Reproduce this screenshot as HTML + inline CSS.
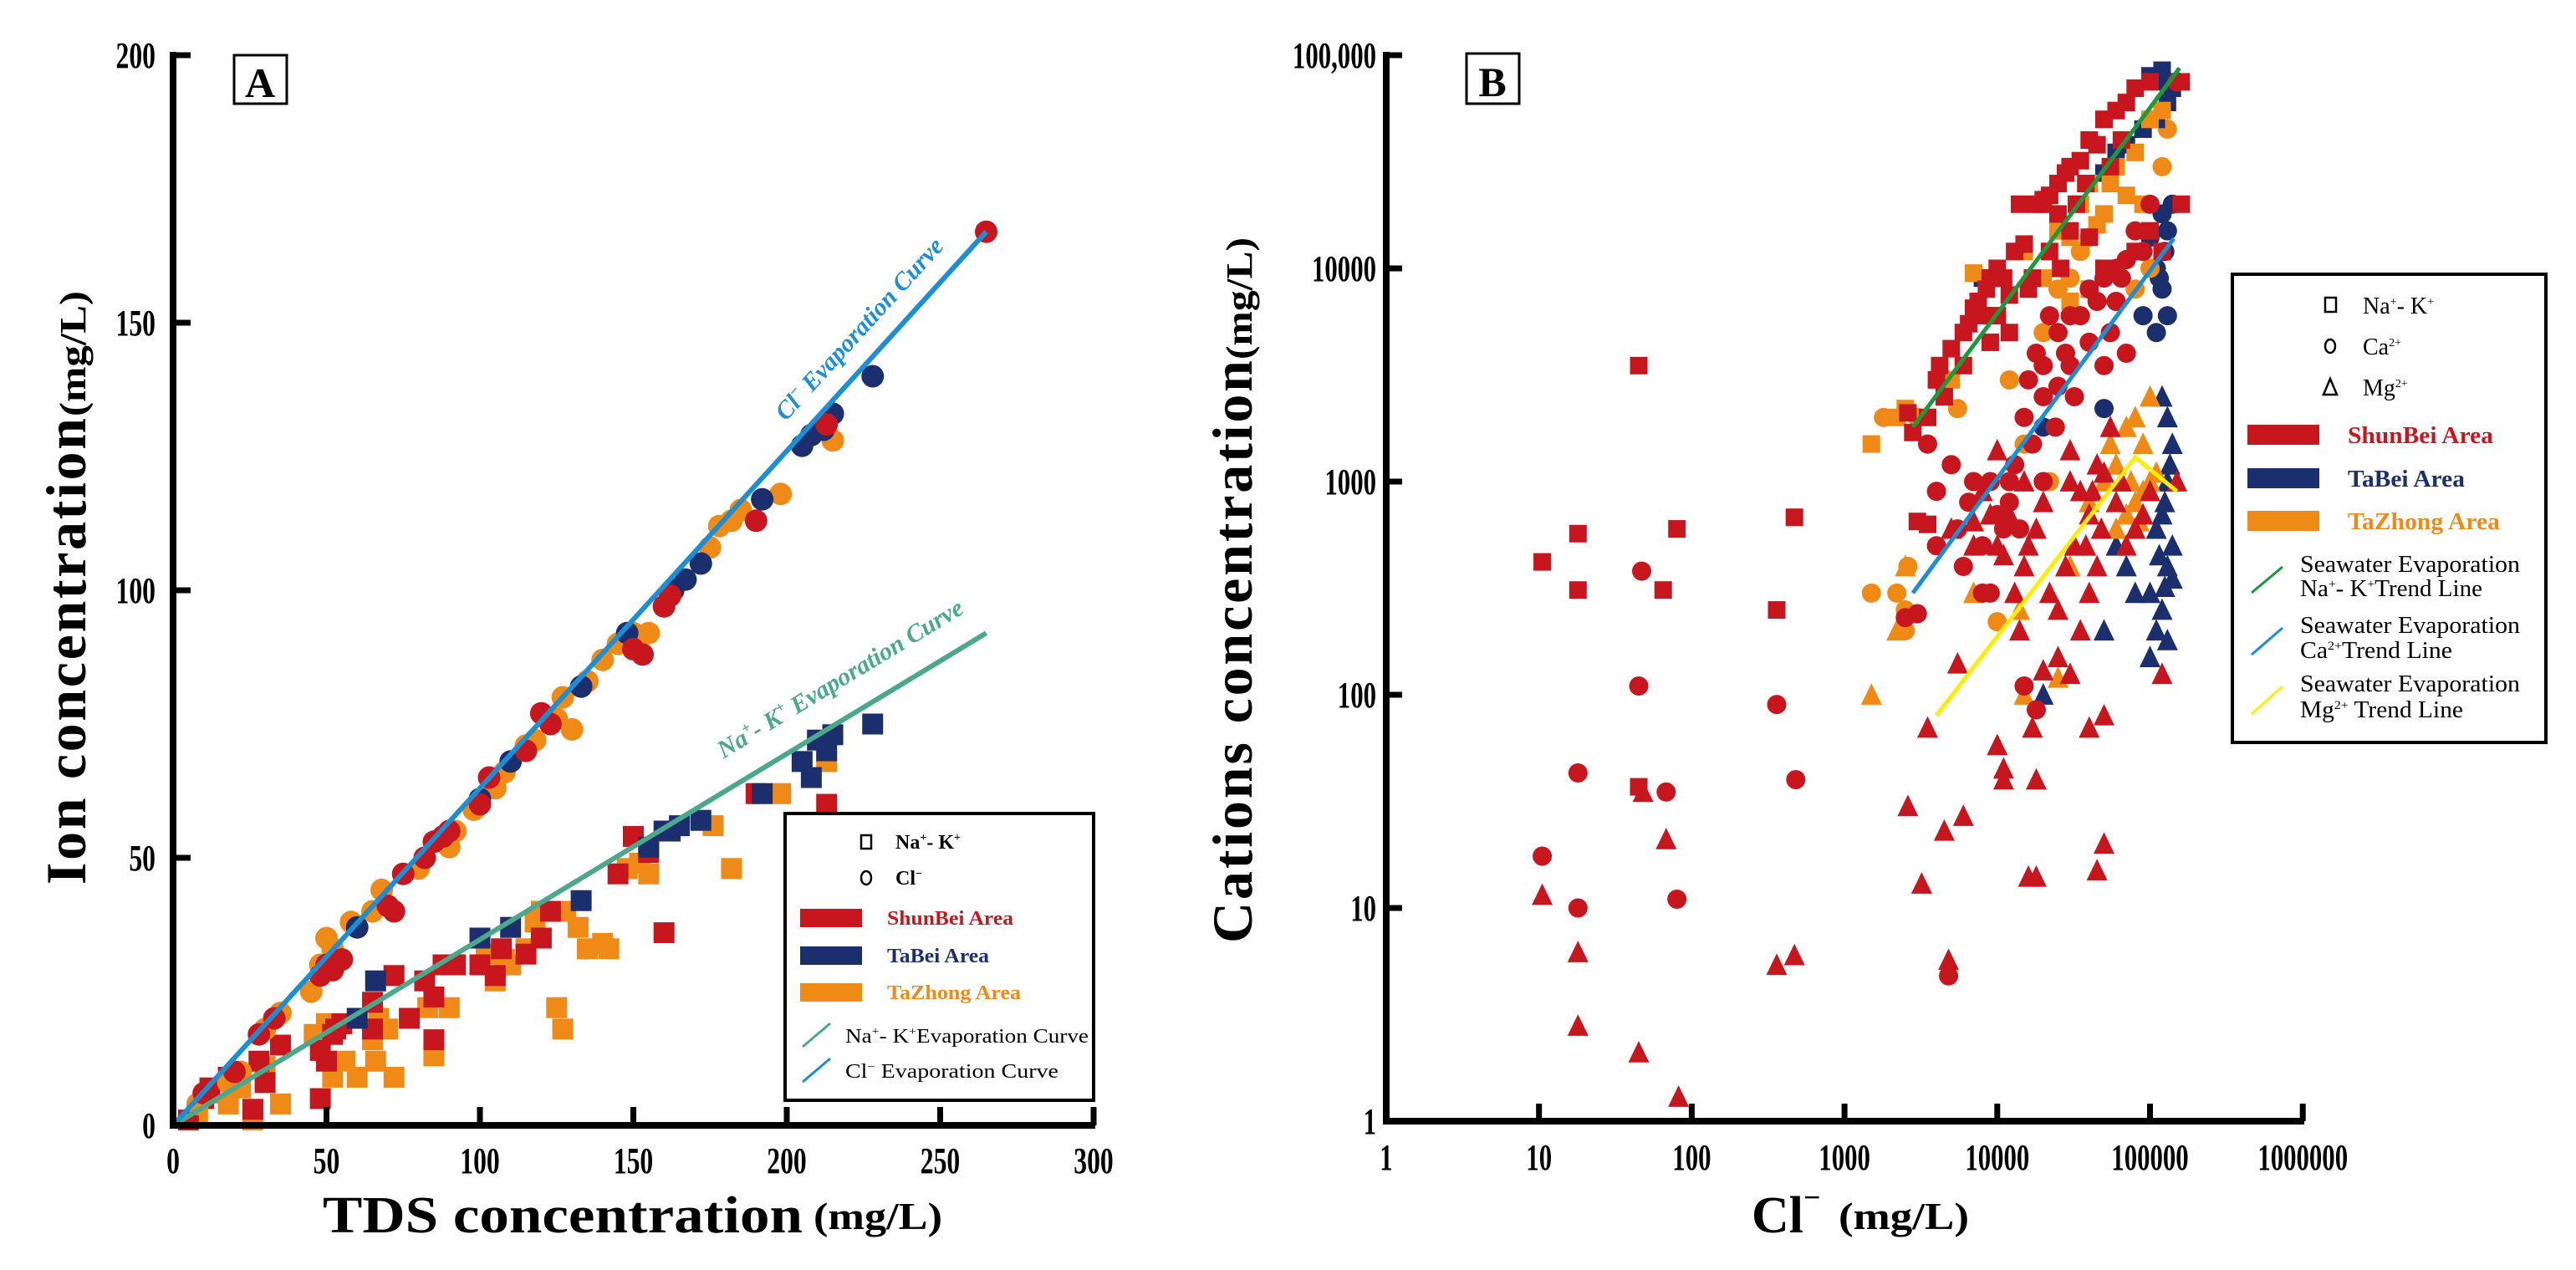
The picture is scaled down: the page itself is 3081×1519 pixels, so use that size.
<!DOCTYPE html>
<html><head><meta charset="utf-8"><style>
html,body{margin:0;padding:0;background:#fff;}
svg{display:block;}
text{font-family:"Liberation Serif",serif;}
</style></head><body>
<svg id="fig" xmlns="http://www.w3.org/2000/svg" width="3081" height="1519" viewBox="0 0 3081 1519">
<rect x="0" y="0" width="3081" height="1519" fill="#fff"/>
<g id="panelA"></g>
<g id="panelB"></g>
</svg>
<script>
// ---------- Panel A data ----------
const aXTicks = [0,50,100,150,200,250,300];
const aYTicks = [0,50,100,150,200];
const aClShunBei = [[10,6],[20,10],[28,17],[33,20],[48,28],[50,30],[52,29],[55,31],[70,41],[72,40],[75,47],[82,50],[85,53],[88,54],[90,55],[100,60],[103,65],[115,70],[120,77],[123,75],[150,89],[153,88],[160,97],[162,99],[190,113],[213,131],[265,167]];
const aClTaBei = [[60,37],[100,61],[110,68],[133,82],[148,92],[160,97],[163,100],[167,102],[172,105],[192,117],[205,127],[208,129],[212,130],[215,133],[228,140]];
const aClTaZhong = [[8,4],[18,8],[22,10],[30,18],[35,21],[45,25],[48,30],[50,35],[52,33],[58,38],[65,40],[68,44],[80,48],[82,50],[90,52],[92,55],[98,59],[105,63],[108,66],[115,71],[118,72],[125,76],[127,80],[130,74],[135,83],[140,87],[145,90],[150,92],[155,92],[175,108],[178,112],[182,113],[185,115],[198,118],[215,128]];
const aNaShunBei = [[5,1],[10,5],[12,7],[18,9],[26,3],[28,12],[30,8],[35,15],[48,5],[48,14],[50,12],[52,17],[53,18],[55,19],[65,23],[65,18],[72,28],[77,20],[82,27],[85,24],[85,16],[88,30],[92,30],[100,30],[105,28],[107,33],[115,32],[120,35],[123,40],[145,47],[150,54],[155,51],[160,36],[190,62],[213,60]];
const aNaTaBei = [[60,20],[66,27],[100,35],[110,37],[133,42],[155,52],[160,55],[162,55],[165,56],[172,57],[192,62],[205,68],[208,65],[210,72],[213,70],[215,73],[228,75]];
const aNaTaZhong = [[8,2],[12,6],[18,4],[22,7],[26,1],[30,11],[35,4],[46,17],[50,19],[52,9],[56,12],[60,9],[65,16],[66,12],[67,20],[70,18],[72,9],[83,22],[85,13],[90,22],[102,32],[105,27],[108,31],[110,30],[115,33],[118,38],[120,40],[125,22],[127,18],[128,40],[132,37],[135,33],[140,34],[142,33],[148,48],[152,49],[155,47],[176,56],[182,48],[198,62],[213,68]];
const aClCurve = [[0,0],[265,167]];
const aNaCurve = [[0,0],[265,92]];

// ---------- Panel B data ----------
const bXTicks = [1,10,100,1000,10000,100000,1000000];
const bXTickLabels = ["1","10","100","1000","10000","100000","1000000"];
const bYTicks = [1,10,100,1000,10000,100000];
const bYTickLabels = ["1","10","100","1000","10000","100,000"];
const bNaShunBei = [[10.5,420],[18,570],[18,310],[45,3500],[65,310],[80,600],[360,250],[470,680],[45,37],[2600,2100],[2800,1700],[3000,650],[3500,630],[3500,2000],[4000,3000],[4200,3500],[4500,2500],[5000,4200],[6000,5000],[6500,5500],[7000,6500],[7500,7000],[8500,8000],[9000,9000],[10000,6000],[10000,10000],[12000,7500],[13000,12000],[15000,13000],[17000,9000],[18000,20000],[20000,20000],[22000,22000],[25000,25000],[28000,28000],[30000,30000],[35000,32000],[40000,40000],[45000,38000],[50000,50000],[60000,55000],[70000,60000],[80000,70000],[100000,75000],[160000,75000],[160000,20000],[120000,12000],[100000,15000],[80000,12000],[50000,10000],[40000,14000],[30000,15000],[25000,18000],[20000,21000],[14000,20000],[11000,9000],[8000,6000],[12000,5000],[16000,8000],[22000,12000],[26000,10000],[33000,20000],[38000,25000],[55000,30000],[65000,40000],[9000,4500],[6000,3500]];
const bNaTaBei = [[100000,80000],[120000,85000],[130000,75000],[140000,70000],[130000,60000],[110000,50000],[90000,45000],[70000,38000],[60000,35000],[50000,28000],[8000,9000]];
const bNaTaZhong = [[1500,1500],[2200,2000],[2500,2200],[5000,3000],[7000,9500],[15000,12000],[20000,9000],[25000,15000],[30000,14000],[35000,20000],[40000,25000],[50000,18000],[60000,30000],[70000,22000],[80000,35000],[100000,50000],[120000,55000],[40000,8000],[30000,7000],[90000,20000],[45000,16000],[55000,25000]];
const bCaShunBei = [[10.5,17.5],[18,43],[18,10],[45,110],[47,380],[68,35],[80,11],[360,90],[480,40],[4800,4.8],[2500,230],[3000,240],[3500,1500],[4000,900],[5000,1200],[5500,600],[6500,800],[7000,1000],[8000,500],[9000,1000],[10000,700],[11000,600],[12000,1000],[13000,1200],[15000,2000],[16000,3000],[18000,4000],[20000,3500],[20000,2500],[22000,6000],[25000,5000],[25000,2800],[28000,4000],[30000,3500],[32000,2500],[35000,6000],[40000,8000],[45000,7000],[50000,9000],[50000,3500],[55000,5000],[60000,10000],[70000,11000],[80000,15000],[90000,12000],[100000,20000],[70000,4000],[15000,110],[18000,85],[12000,800],[20000,1000],[9000,300],[6000,400],[8000,300],[4000,500],[150000,75000],[14000,600],[17000,1500],[24000,1800],[30000,6000],[40000,4500],[60000,7000],[65000,9000]];
const bCaTaBei = [[100000,14000],[110000,10000],[120000,8000],[130000,6000],[125000,12000],[120000,18000],[140000,20000],[90000,6000],[110000,5000],[20000,1800],[50000,2200],[130000,15000],[115000,9000]];
const bCaTaZhong = [[1500,300],[2200,300],[2500,250],[2600,400],[3000,2000],[5500,2200],[10000,220],[15000,1500],[20000,5000],[25000,8000],[30000,9000],[35000,12000],[40000,14000],[22000,1000],[12000,3000],[60000,7000],[80000,8000],[100000,10000],[120000,30000],[130000,45000],[2500,200],[1800,2000]];
const bMgShunBei = [[10.5,11.5],[18,6.2],[18,2.8],[45,2.1],[48,35],[68,21],[82,1.3],[360,5.4],[470,6],[2600,30],[3200,13],[3500,70],[4500,23],[4800,5.7],[6000,27],[10000,58],[11000,45],[11000,40],[16000,14],[18000,14],[18000,40],[17000,70],[40000,70],[45000,15],[50000,20],[50000,80],[30000,125],[120000,125],[5500,140],[5000,600],[7000,650],[8000,900],[9000,700],[10000,500],[11000,450],[12000,700],[13000,300],[14000,200],[15000,400],[16000,500],[18000,600],[20000,800],[22000,300],[25000,250],[28000,400],[30000,1000],[32000,500],[35000,900],[40000,700],[45000,1200],[50000,1100],[60000,800],[70000,500],[80000,600],[100000,900],[150000,1000],[20000,130],[25000,150],[40000,300],[45000,400],[35000,200],[55000,1800],[10000,1400],[7000,500],[30000,1400],[15000,1000],[38000,500],[42000,900],[48000,600],[65000,1000],[90000,700]];
const bMgTaBei = [[100000,300],[110000,200],[120000,250],[130000,400],[140000,500],[120000,700],[130000,1000],[140000,1500],[130000,2000],[120000,2500],[60000,500],[70000,400],[50000,200],[80000,300],[110000,600],[130000,180],[140000,350],[100000,150],[20000,100],[125000,800],[135000,1200],[115000,450],[125000,320]];
const bMgTaZhong = [[1500,100],[2200,200],[2500,400],[5000,600],[7000,300],[14000,250],[15000,100],[25000,120],[30000,400],[40000,800],[50000,1000],[60000,1200],[70000,1800],[80000,2000],[90000,1500],[100000,2500],[60000,600],[70000,700],[80000,800],[90000,900],[100000,1000],[110000,1100],[55000,1500],[75000,1000],[85000,650]];
const bNaTrend = [[2800,1800],[156000,87000]];
const bCaTrend = [[2800,300],[143000,13800]];
const bMgTrend = [[4000,80],[80000,1300],[150000,900]];

const RED="#c8161e", NAVY="#1b2f6e", ORANGE="#f08a16";
const NS="http://www.w3.org/2000/svg";
function mk(tag, attrs, parent){const e=document.createElementNS(NS,tag);for(const k in attrs)e.setAttribute(k,attrs[k]);parent.appendChild(e);return e;}

function xA(v){return 207+v*3.67;}
function yA(v){return 1346-v*6.4;}
function xB(v){return 1658+Math.log10(v)*182.7;}
function yB(v){return 1341-Math.log10(v)*255;}

function marker(shape,cx,cy,s,color,parent,name){
  let e;
  if(shape==='c'){e=mk('circle',{cx:cx,cy:cy,r:s/2,fill:color},parent);}
  else if(shape==='s'){e=mk('rect',{x:cx-s/2,y:cy-s/2,width:s,height:s,fill:color},parent);}
  else {const h=s*0.95;e=mk('polygon',{points:`${cx},${cy-h/2-2} ${cx-s/2},${cy+h/2} ${cx+s/2},${cy+h/2}`,fill:color},parent);}
  
  
  return e;
}
function txt(parent,x,y,str,size,opts){
  const t=mk('text',{x:x,y:y,'font-size':size},parent);
  if(opts)for(const k in opts)t.setAttribute(k,opts[k]);
  t.innerHTML=str;return t;
}

// ================= PANEL A =================
const A=document.getElementById('panelA');
function drawA(arr,shape,color,name){arr.forEach(p=>marker(shape,xA(p[0]),yA(p[1]),shape==='c'?27:25,color,A,name));}
drawA(aNaTaZhong,'s',ORANGE,'tazhong-na-k-point');
drawA(aNaShunBei,'s',RED,'shunbei-na-k-point');
drawA(aNaTaBei,'s',NAVY,'tabei-na-k-point');
drawA(aClTaZhong,'c',ORANGE,'tazhong-cl-point');
drawA(aClTaBei,'c',NAVY,'tabei-cl-point');
drawA(aClShunBei,'c',RED,'shunbei-cl-point');
let l=mk('line',{x1:xA(aNaCurve[0][0]),y1:yA(aNaCurve[0][1]),x2:xA(aNaCurve[1][0]),y2:yA(aNaCurve[1][1]),stroke:'#4aa88c','stroke-width':6},A);


l=mk('line',{x1:xA(aClCurve[0][0]),y1:yA(aClCurve[0][1]),x2:xA(aClCurve[1][0]),y2:yA(aClCurve[1][1]),stroke:'#1a8fd6','stroke-width':6},A);


let t=txt(A,0,0,'Cl<tspan font-size="18" dy="-12">−</tspan><tspan dy="12"> Evaporation Curve</tspan>',30,{fill:'#1a8fd6','font-style':'italic','font-weight':'bold',transform:'translate(1035,400) rotate(-47.7)','text-anchor':'middle'});


t=txt(A,0,0,'Na<tspan font-size="18" dy="-12">+</tspan><tspan dy="12">- K</tspan><tspan font-size="18" dy="-12">+</tspan><tspan dy="12"> Evaporation Curve</tspan>',30,{fill:'#4aa88c','font-style':'italic','font-weight':'bold',transform:'translate(1010,820) rotate(-31.2)','text-anchor':'middle'});


l=mk('line',{x1:207,y1:62,x2:207,y2:1350,stroke:'#000','stroke-width':8},A);


l=mk('line',{x1:203,y1:1346,x2:1310,y2:1346,stroke:'#000','stroke-width':8},A);


aYTicks.forEach(v=>{
  const tk=mk('line',{x1:207,y1:yA(v),x2:228,y2:yA(v),stroke:'#000','stroke-width':7},A);
  
  
  const lb=txt(A,0,0,String(v),44,{'text-anchor':'end','font-weight':'bold',transform:`translate(186,${yA(v)+15}) scale(0.72,1)`});
  
  
});
aXTicks.forEach(v=>{
  const tk=mk('line',{x1:xA(v),y1:1346,x2:xA(v),y2:1324,stroke:'#000','stroke-width':7},A);
  
  
  const lb=txt(A,0,0,String(v),44,{'text-anchor':'middle','font-weight':'bold',transform:`translate(${xA(v)},1403) scale(0.72,1)`});
  
  
});
l=mk('rect',{x:280,y:66,width:63,height:58,fill:'none',stroke:'#000','stroke-width':3},A);


t=txt(A,311,116,'A',50,{'text-anchor':'middle','font-weight':'bold'});


t=txt(A,0,0,'Ion concentration',68,{'font-weight':'bold',transform:'translate(102,1058) rotate(-90)',textLength:558,lengthAdjust:'spacing'});


t=txt(A,0,0,'(mg/L)',44,{'font-weight':'bold',transform:'translate(102,498) rotate(-90)',textLength:150,lengthAdjust:'spacingAndGlyphs'});


t=txt(A,386,1474,'TDS concentration',62,{'font-weight':'bold',textLength:574,lengthAdjust:'spacingAndGlyphs'});


t=txt(A,973,1470,'(mg/L)',46,{'font-weight':'bold',textLength:154,lengthAdjust:'spacingAndGlyphs'});


const LA=mk('g',{},A);


mk('rect',{x:939,y:973,width:369,height:343,fill:'#fff',stroke:'#000','stroke-width':4},LA);
mk('rect',{x:1030,y:999,width:12,height:16,fill:'none',stroke:'#000','stroke-width':2.5},LA);
mk('ellipse',{cx:1036,cy:1050,rx:6,ry:8,fill:'none',stroke:'#000','stroke-width':2.5},LA);
txt(LA,1071,1015,'Na<tspan font-size="14" dy="-9">+</tspan><tspan dy="9">- K</tspan><tspan font-size="14" dy="-9">+</tspan>',24,{'font-weight':'bold'});
txt(LA,1071,1058,'Cl<tspan font-size="14" dy="-9">−</tspan>',24,{'font-weight':'bold'});
[[1098,RED,'ShunBei Area'],[1143,NAVY,'TaBei Area'],[1187,ORANGE,'TaZhong Area']].forEach((r,i)=>{
  const sw=mk('rect',{x:957,y:r[0]-11,width:74,height:22,fill:r[1]},LA);
  
  
  const lt=txt(LA,1061,r[0]+8,r[2],24,{'font-weight':'bold',fill:r[1],textLength:[151,122,160][i],lengthAdjust:'spacingAndGlyphs'});
  
  
});
mk('line',{x1:960,y1:1252,x2:993,y2:1224,stroke:'#4aa88c','stroke-width':3},LA);
mk('line',{x1:960,y1:1294,x2:993,y2:1266,stroke:'#1a8fd6','stroke-width':3},LA);
txt(LA,1011,1247,'Na<tspan font-size="14" dy="-9">+</tspan><tspan dy="9">- K</tspan><tspan font-size="14" dy="-9">+</tspan><tspan dy="9">Evaporation Curve</tspan>',24,{textLength:291,lengthAdjust:'spacingAndGlyphs'});
txt(LA,1011,1289,'Cl<tspan font-size="14" dy="-9">−</tspan><tspan dy="9"> Evaporation Curve</tspan>',24,{textLength:255,lengthAdjust:'spacingAndGlyphs'});

// ================= PANEL B =================
const B=document.getElementById('panelB');
function drawB(arr,shape,color,name){arr.forEach(p=>marker(shape,xB(p[0]),yB(p[1]),shape==='t'?25:(shape==='c'?23:21),color,B,name));}
drawB(bMgTaBei,'t',NAVY,'tabei-mg-point');
drawB(bMgTaZhong,'t',ORANGE,'tazhong-mg-point');
drawB(bMgShunBei,'t',RED,'shunbei-mg-point');
drawB(bCaTaBei,'c',NAVY,'tabei-ca-point');
drawB(bCaTaZhong,'c',ORANGE,'tazhong-ca-point');
drawB(bNaTaBei,'s',NAVY,'tabei-na-k-point');
drawB(bNaTaZhong,'s',ORANGE,'tazhong-na-k-point');
drawB(bCaShunBei,'c',RED,'shunbei-ca-point');
drawB(bNaShunBei,'s',RED,'shunbei-na-k-point');
function trend(arr,color,name){
  const p=mk('polyline',{points:arr.map(d=>xB(d[0])+','+yB(d[1])).join(' '),fill:'none',stroke:color,'stroke-width':5},B);
  
  
}
trend(bNaTrend,'#1a9a3a','na-k-trend-line');
trend(bCaTrend,'#1a8fd6','ca-trend-line');
trend(bMgTrend,'#ffee00','mg-trend-line');
l=mk('line',{x1:1658,y1:62,x2:1658,y2:1345,stroke:'#000','stroke-width':8},B);


l=mk('line',{x1:1654,y1:1341,x2:2756,y2:1341,stroke:'#000','stroke-width':8},B);


bYTicks.forEach((v,i)=>{
  const tk=mk('line',{x1:1658,y1:yB(v),x2:1677,y2:yB(v),stroke:'#000','stroke-width':7},B);
  
  
  const lb=txt(B,0,0,bYTickLabels[i],44,{'text-anchor':'end','font-weight':'bold',transform:`translate(1646,${yB(v)+15}) scale(0.7,1)`});
  
  
});
bXTicks.forEach((v,i)=>{
  const tk=mk('line',{x1:xB(v),y1:1341,x2:xB(v),y2:1320,stroke:'#000','stroke-width':7},B);
  
  
  const lb=txt(B,0,0,bXTickLabels[i],44,{'text-anchor':'middle','font-weight':'bold',transform:`translate(${xB(v)},1399) scale(0.7,1)`});
  
  
});
l=mk('rect',{x:1754,y:64,width:63,height:60,fill:'none',stroke:'#000','stroke-width':3},B);


t=txt(B,1785,115,'B',50,{'text-anchor':'middle','font-weight':'bold'});


t=txt(B,0,0,'Cations concentration',68,{'font-weight':'bold',transform:'translate(1497,1128) rotate(-90)',textLength:697,lengthAdjust:'spacing'});


t=txt(B,0,0,'(mg/L)',44,{'font-weight':'bold',transform:'translate(1497,430) rotate(-90)',textLength:146,lengthAdjust:'spacingAndGlyphs'});


t=txt(B,2095,1474,'Cl<tspan font-size="36" dy="-30">−</tspan>',62,{'font-weight':'bold'});


t=txt(B,2199,1470,'(mg/L)',46,{'font-weight':'bold',textLength:156,lengthAdjust:'spacingAndGlyphs'});


const LB=mk('g',{},B);


mk('rect',{x:2670,y:328,width:375,height:560,fill:'#fff',stroke:'#000','stroke-width':4},LB);
mk('rect',{x:2781,y:356,width:13,height:17,fill:'none',stroke:'#000','stroke-width':2.5},LB);
mk('ellipse',{cx:2787,cy:414,rx:6,ry:8,fill:'none',stroke:'#000','stroke-width':2.5},LB);
mk('polygon',{points:'2787,453 2779,472 2795,472',fill:'none',stroke:'#000','stroke-width':2.5},LB);
txt(LB,2826,375,'Na<tspan font-size="14" dy="-10">+</tspan><tspan dy="10">- K</tspan><tspan font-size="14" dy="-10">+</tspan>',28,{});
txt(LB,2826,424,'Ca<tspan font-size="14" dy="-10">2+</tspan>',28,{});
txt(LB,2826,473,'Mg<tspan font-size="14" dy="-10">2+</tspan>',28,{});
[[520,RED,'ShunBei Area',174],[572,NAVY,'TaBei Area',140],[623,ORANGE,'TaZhong Area',182]].forEach(r=>{
  const sw=mk('rect',{x:2688,y:r[0]-12,width:86,height:24,fill:r[1]},LB);
  
  
  const lt=txt(LB,2808,r[0]+10,r[2],28,{'font-weight':'bold',fill:r[1],textLength:r[3],lengthAdjust:'spacingAndGlyphs'});
  
  
});
[[674,703,'#1a9a3a','Na<tspan font-size="15" dy="-10">+</tspan><tspan dy="10">- K</tspan><tspan font-size="15" dy="-10">+</tspan><tspan dy="10">Trend Line</tspan>',218],
 [747,777,'#1a8fd6','Ca<tspan font-size="15" dy="-10">2+</tspan><tspan dy="10">Trend Line</tspan>',182],
 [817,848,'#ffee00','Mg<tspan font-size="15" dy="-10">2+</tspan><tspan dy="10"> Trend Line</tspan>',195]].forEach(r=>{
  mk('line',{x1:2693,y1:r[1]+6,x2:2730,y2:r[0]+4,stroke:r[2],'stroke-width':3},LB);
  txt(LB,2751,r[0]+10,'Seawater Evaporation',28,{textLength:263,lengthAdjust:'spacingAndGlyphs'});
  txt(LB,2751,r[1]+10,r[3],28,{textLength:r[4],lengthAdjust:'spacingAndGlyphs'});
});
</script>
</body></html>
